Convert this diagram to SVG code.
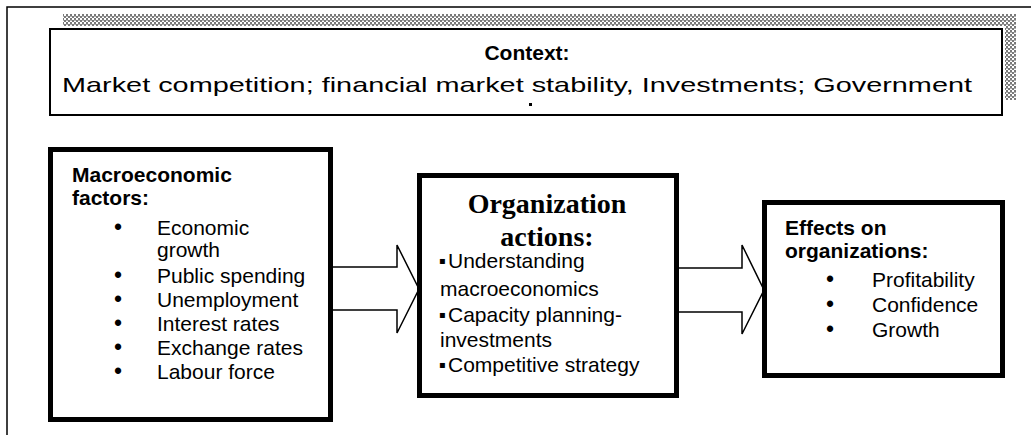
<svg xmlns="http://www.w3.org/2000/svg" width="1031" height="435" viewBox="0 0 1031 435">
<defs>
<pattern id="hatch" x="0" y="0" width="4" height="4" patternUnits="userSpaceOnUse">
<rect width="4" height="4" fill="#ffffff"/>
<rect x="0" y="0" width="2" height="2" fill="#7a7a7a"/>
<rect x="2" y="2" width="2" height="2" fill="#7a7a7a"/>
<rect x="2" y="0" width="2" height="1" fill="#b0b0b0"/>
</pattern>
<style>
.frame{fill:none;stroke:#000;stroke-width:1.5}
.box{fill:#fff;stroke:#000;stroke-width:5}
.ctx{fill:#fff;stroke:#000;stroke-width:2}
.arrow{fill:#fff;stroke:#000;stroke-width:1.5;stroke-linejoin:miter}
.t{font-family:"Liberation Sans",Arial,sans-serif;font-size:21px;fill:#000}
.b{font-weight:bold}
.serif{font-family:"Liberation Serif","Times New Roman",serif;font-weight:bold;font-size:28px;fill:#000}
.sq{font-family:"DejaVu Sans","Liberation Sans",sans-serif;font-size:10px;fill:#000}
.dot{font-size:23px}
</style>
</defs>
<rect width="1031" height="435" fill="#fff"/>
<g id="outer-frame">
<polyline class="frame" points="7,435 7,7 1031,7"/>
<rect x="63" y="14" width="953" height="12" fill="url(#hatch)"/>
<rect x="1005" y="14" width="11" height="86" fill="url(#hatch)"/>
</g>
<g id="context">
<rect class="ctx" x="50" y="29" width="952" height="86"/>
<text class="t b" x="527" y="60" text-anchor="middle" font-size="20">Context:</text>
<text class="t" x="62" y="92" font-size="28.5" textLength="910" lengthAdjust="spacingAndGlyphs">Market competition; financial market stability, Investments; Government</text>
<rect x="529" y="103" width="3" height="3" fill="#000"/>
</g>
<g id="connectors">
<path class="arrow" d="M333,267 L397,267 L397,245 L419,289 L397,333 L397,310 L333,310"/>
<path class="arrow" d="M679,268 L742,268 L742,245 L764,290 L742,334 L742,312 L679,312"/>
</g>
<g id="macro">
<rect class="box" x="50.5" y="149.5" width="280" height="270"/>
<text class="t b" x="72" y="182">Macroeconomic</text>
<text class="t b" x="72" y="205">factors:</text>
<g class="t">
<text class="dot" x="118" y="235" text-anchor="middle">•</text><text x="157" y="235">Economic</text>
<text x="157" y="257">growth</text>
<text class="dot" x="118" y="283" text-anchor="middle">•</text><text x="157" y="283">Public spending</text>
<text class="dot" x="118" y="307" text-anchor="middle">•</text><text x="157" y="307">Unemployment</text>
<text class="dot" x="118" y="331" text-anchor="middle">•</text><text x="157" y="331">Interest rates</text>
<text class="dot" x="118" y="355" text-anchor="middle">•</text><text x="157" y="355">Exchange rates</text>
<text class="dot" x="118" y="379" text-anchor="middle">•</text><text x="157" y="379">Labour force</text>
</g>
</g>
<g id="actions">
<rect class="box" x="419.5" y="175.5" width="257" height="220"/>
<text class="serif" x="547" y="213" text-anchor="middle">Organization</text>
<text class="serif" x="547" y="246" text-anchor="middle">actions:</text>
<g class="t">
<text class="sq" x="439" y="264">▪</text><text x="448" y="268">Understanding</text>
<text x="440" y="296">macroeconomics</text>
<text class="sq" x="439" y="318">▪</text><text x="448" y="322">Capacity planning-</text>
<text x="440" y="347">investments</text>
<text class="sq" x="439" y="368">▪</text><text x="448" y="372">Competitive strategy</text>
</g>
</g>
<g id="effects">
<rect class="box" x="764.5" y="202.5" width="238" height="173"/>
<text class="t b" x="785" y="235">Effects on</text>
<text class="t b" x="785" y="258">organizations:</text>
<g class="t">
<text class="dot" x="830" y="287" text-anchor="middle">•</text><text x="872" y="287">Profitability</text>
<text class="dot" x="830" y="312" text-anchor="middle">•</text><text x="872" y="312">Confidence</text>
<text class="dot" x="830" y="337" text-anchor="middle">•</text><text x="872" y="337">Growth</text>
</g>
</g>
</svg>
